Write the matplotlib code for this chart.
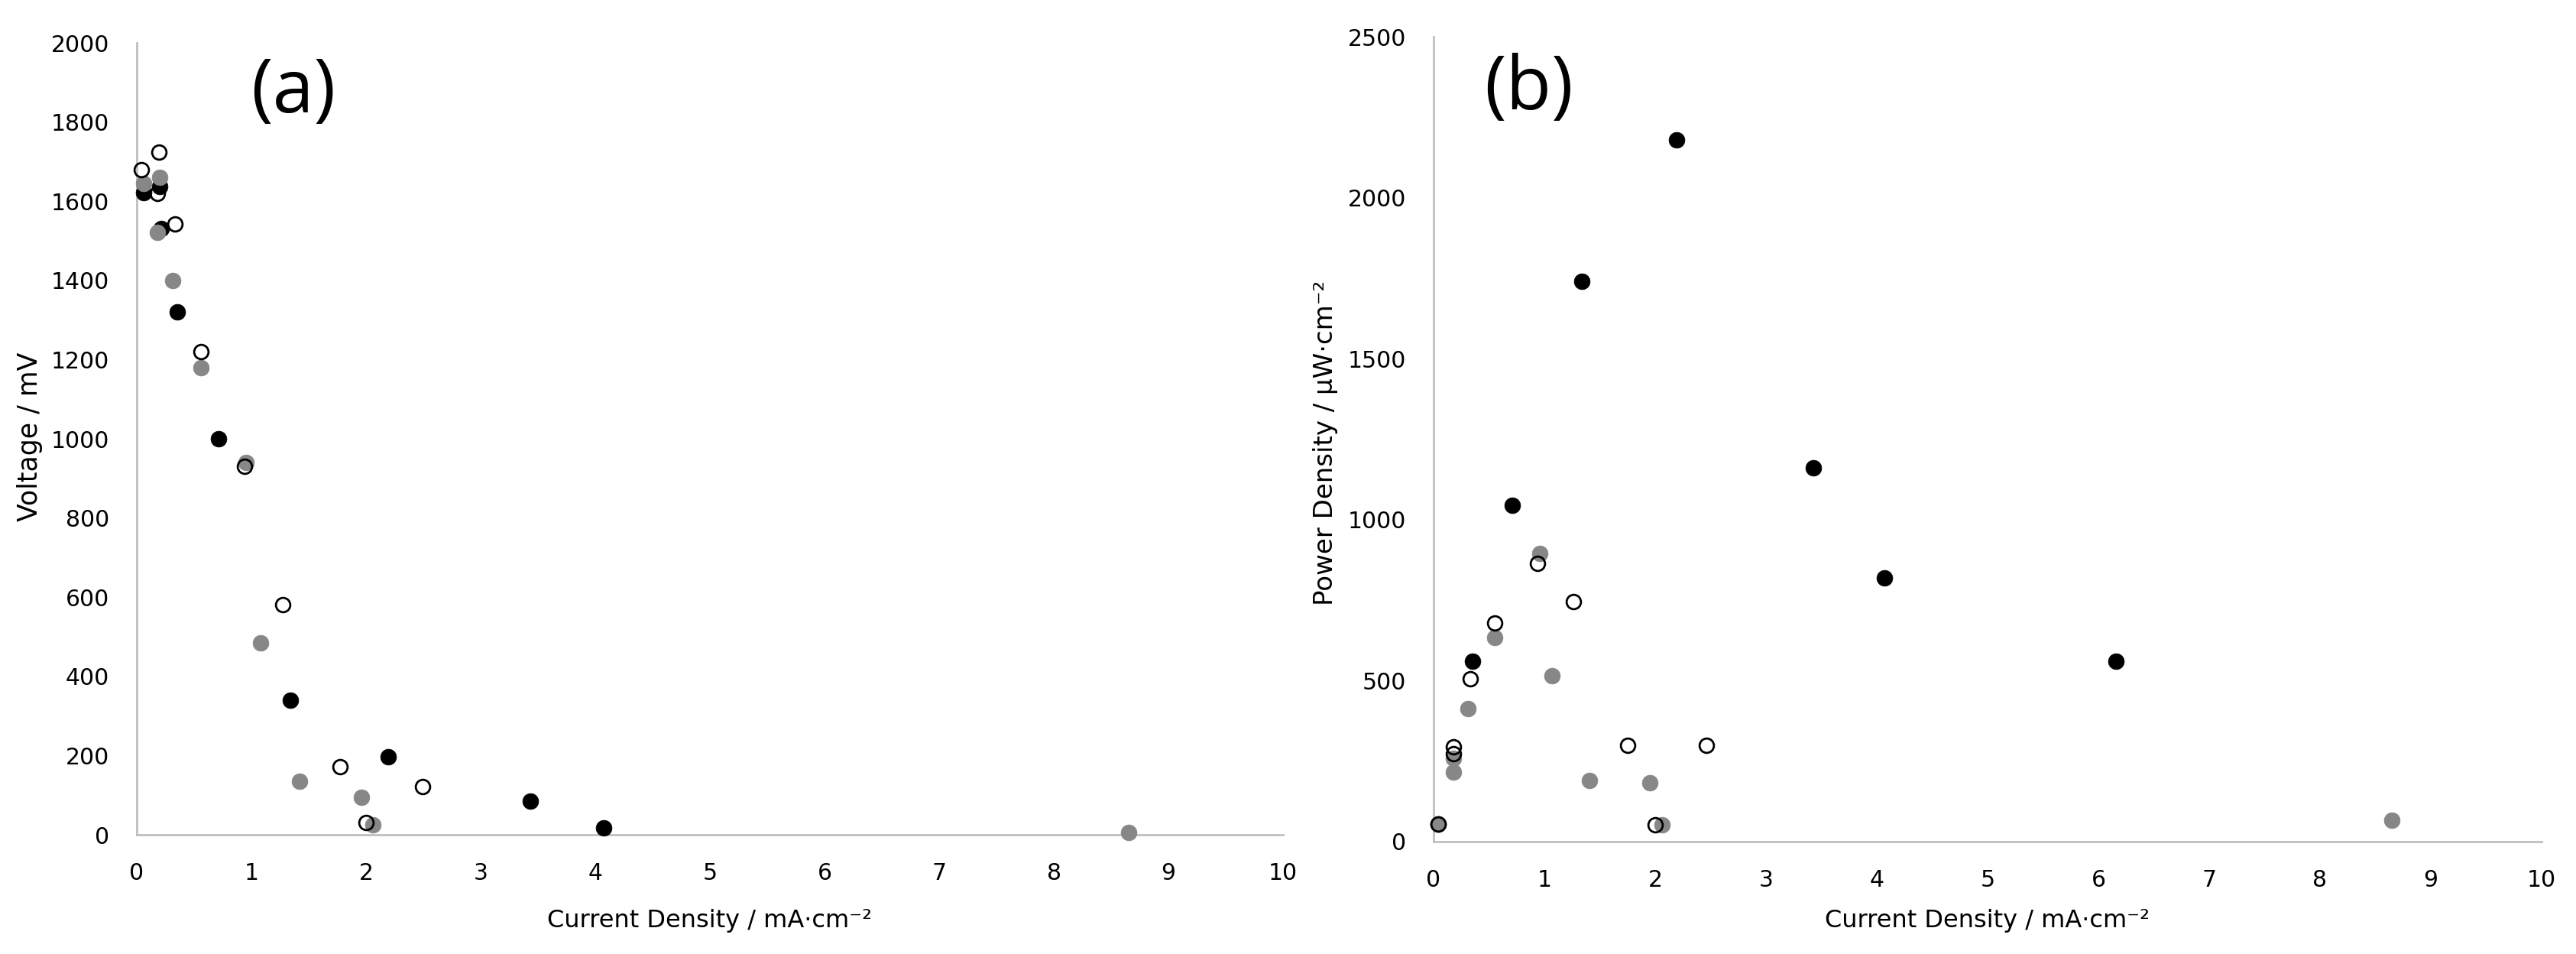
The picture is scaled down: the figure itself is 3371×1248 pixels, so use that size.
import matplotlib
matplotlib.use("Agg")
import matplotlib.pyplot as plt

# ---------------- data ----------------
# Panel (a): Voltage (mV) vs current density (mA/cm2)
black_v_x = [0.06, 0.20, 0.21, 0.35, 0.71, 1.34, 2.19, 3.43, 4.07]
black_v_y = [1622, 1637, 1530, 1320, 1000, 340, 197, 85, 18]
gray_v_x = [0.06, 0.20, 0.18, 0.31, 0.56, 0.95, 1.08, 1.42, 1.96, 2.06, 8.65]
gray_v_y = [1645, 1661, 1521, 1400, 1180, 940, 484, 136, 94, 25, 5]
open_v_x = [0.04, 0.19, 0.18, 0.33, 0.56, 0.94, 1.27, 1.77, 2.00, 2.49]
open_v_y = [1680, 1723, 1619, 1543, 1220, 930, 582, 172, 31, 122]

# Panel (b): Power density (uW/cm2) vs current density (mA/cm2)
black_p_x = [0.04, 0.35, 0.71, 1.34, 2.19, 3.43, 4.07, 6.16]
black_p_y = [55, 560, 1045, 1740, 2180, 1160, 820, 560]
gray_p_x = [0.04, 0.18, 0.18, 0.31, 0.55, 0.96, 1.07, 1.41, 1.95, 2.06, 8.65]
gray_p_y = [55, 258, 216, 413, 635, 895, 515, 190, 183, 52, 66]
open_p_x = [0.04, 0.18, 0.18, 0.33, 0.55, 0.94, 1.26, 1.75, 2.00, 2.46]
open_p_y = [55, 295, 272, 505, 680, 865, 745, 300, 53, 300]

x_ticks = list(range(0, 11))
v_ticks = list(range(0, 2001, 200))
p_ticks = list(range(0, 2501, 500))

xlabel = "Current Density / mA\u00b7cm\u207b\u00b2"
ylabel_a = "Voltage / mV"
ylabel_b = "Power Density / \u00b5W\u00b7cm\u207b\u00b2"

# ---------------- style ----------------
W, H, DPI = 3371, 1248, 100
plt.rcParams['font.family'] = ['DejaVu Sans']

fig = plt.figure(figsize=(W / DPI, H / DPI), dpi=DPI)
fig.patch.set_facecolor('white')

def px_axes(l, r, t, b):
    return fig.add_axes([l / W, 1 - b / H, (r - l) / W, (b - t) / H])

ax_a = px_axes(179, 1679, 56, 1092)
ax_b = px_axes(1876, 3326, 48, 1101)

GRAY = '#878787'
SPINE = '#BFBFBF'
MS = 15

def draw(ax, bx, by, gx, gy, ox, oy, yticks, ymax):
    ax.plot(bx, by, 'o', ls='none', ms=MS, mfc='black', mec='black', mew=0.5, zorder=3, clip_on=False)
    ax.plot(gx, gy, 'o', ls='none', ms=MS, mfc=GRAY, mec=GRAY, mew=0.5, zorder=4, clip_on=False)
    ax.plot(ox, oy, 'o', ls='none', ms=MS - 1.5, mfc='none', mec='black', mew=2.0, zorder=5, clip_on=False)
    ax.set_xlim(0, 10)
    ax.set_ylim(0, ymax)
    ax.set_xticks(x_ticks)
    ax.set_yticks(yticks)
    for s in ('top', 'right'):
        ax.spines[s].set_visible(False)
    for s in ('left', 'bottom'):
        ax.spines[s].set_color(SPINE)
        ax.spines[s].set_linewidth(2.0)
    ax.tick_params(axis='both', length=0, labelsize=21.5, colors='black')
    ax.tick_params(axis='x', pad=26)
    ax.tick_params(axis='y', pad=26)
    ax.set_facecolor('white')

draw(ax_a, black_v_x, black_v_y, gray_v_x, gray_v_y, open_v_x, open_v_y, v_ticks, 2000)
draw(ax_b, black_p_x, black_p_y, gray_p_x, gray_p_y, open_p_x, open_p_y, p_ticks, 2500)

# axis labels
fig.text(929 / W, 1 - 1205 / H, xlabel, ha='center', va='center', fontsize=23)
fig.text(2601 / W, 1 - 1205 / H, xlabel, ha='center', va='center', fontsize=23)
fig.text(39 / W, 1 - 571 / H, ylabel_a, ha='center', va='center', rotation=90, fontsize=25)
fig.text(1734 / W, 1 - 579 / H, ylabel_b, ha='center', va='center', rotation=90, fontsize=24.5)

# panel labels
fig.text(384 / W, 1 - 122 / H, "(a)", ha='center', va='center', fontsize=70, family=['Open Sans', 'DejaVu Sans'])
fig.text(2000 / W, 1 - 118 / H, "(b)", ha='center', va='center', fontsize=70, family=['Open Sans', 'DejaVu Sans'])

fig.savefig('out.png', dpi=DPI, facecolor='white')
